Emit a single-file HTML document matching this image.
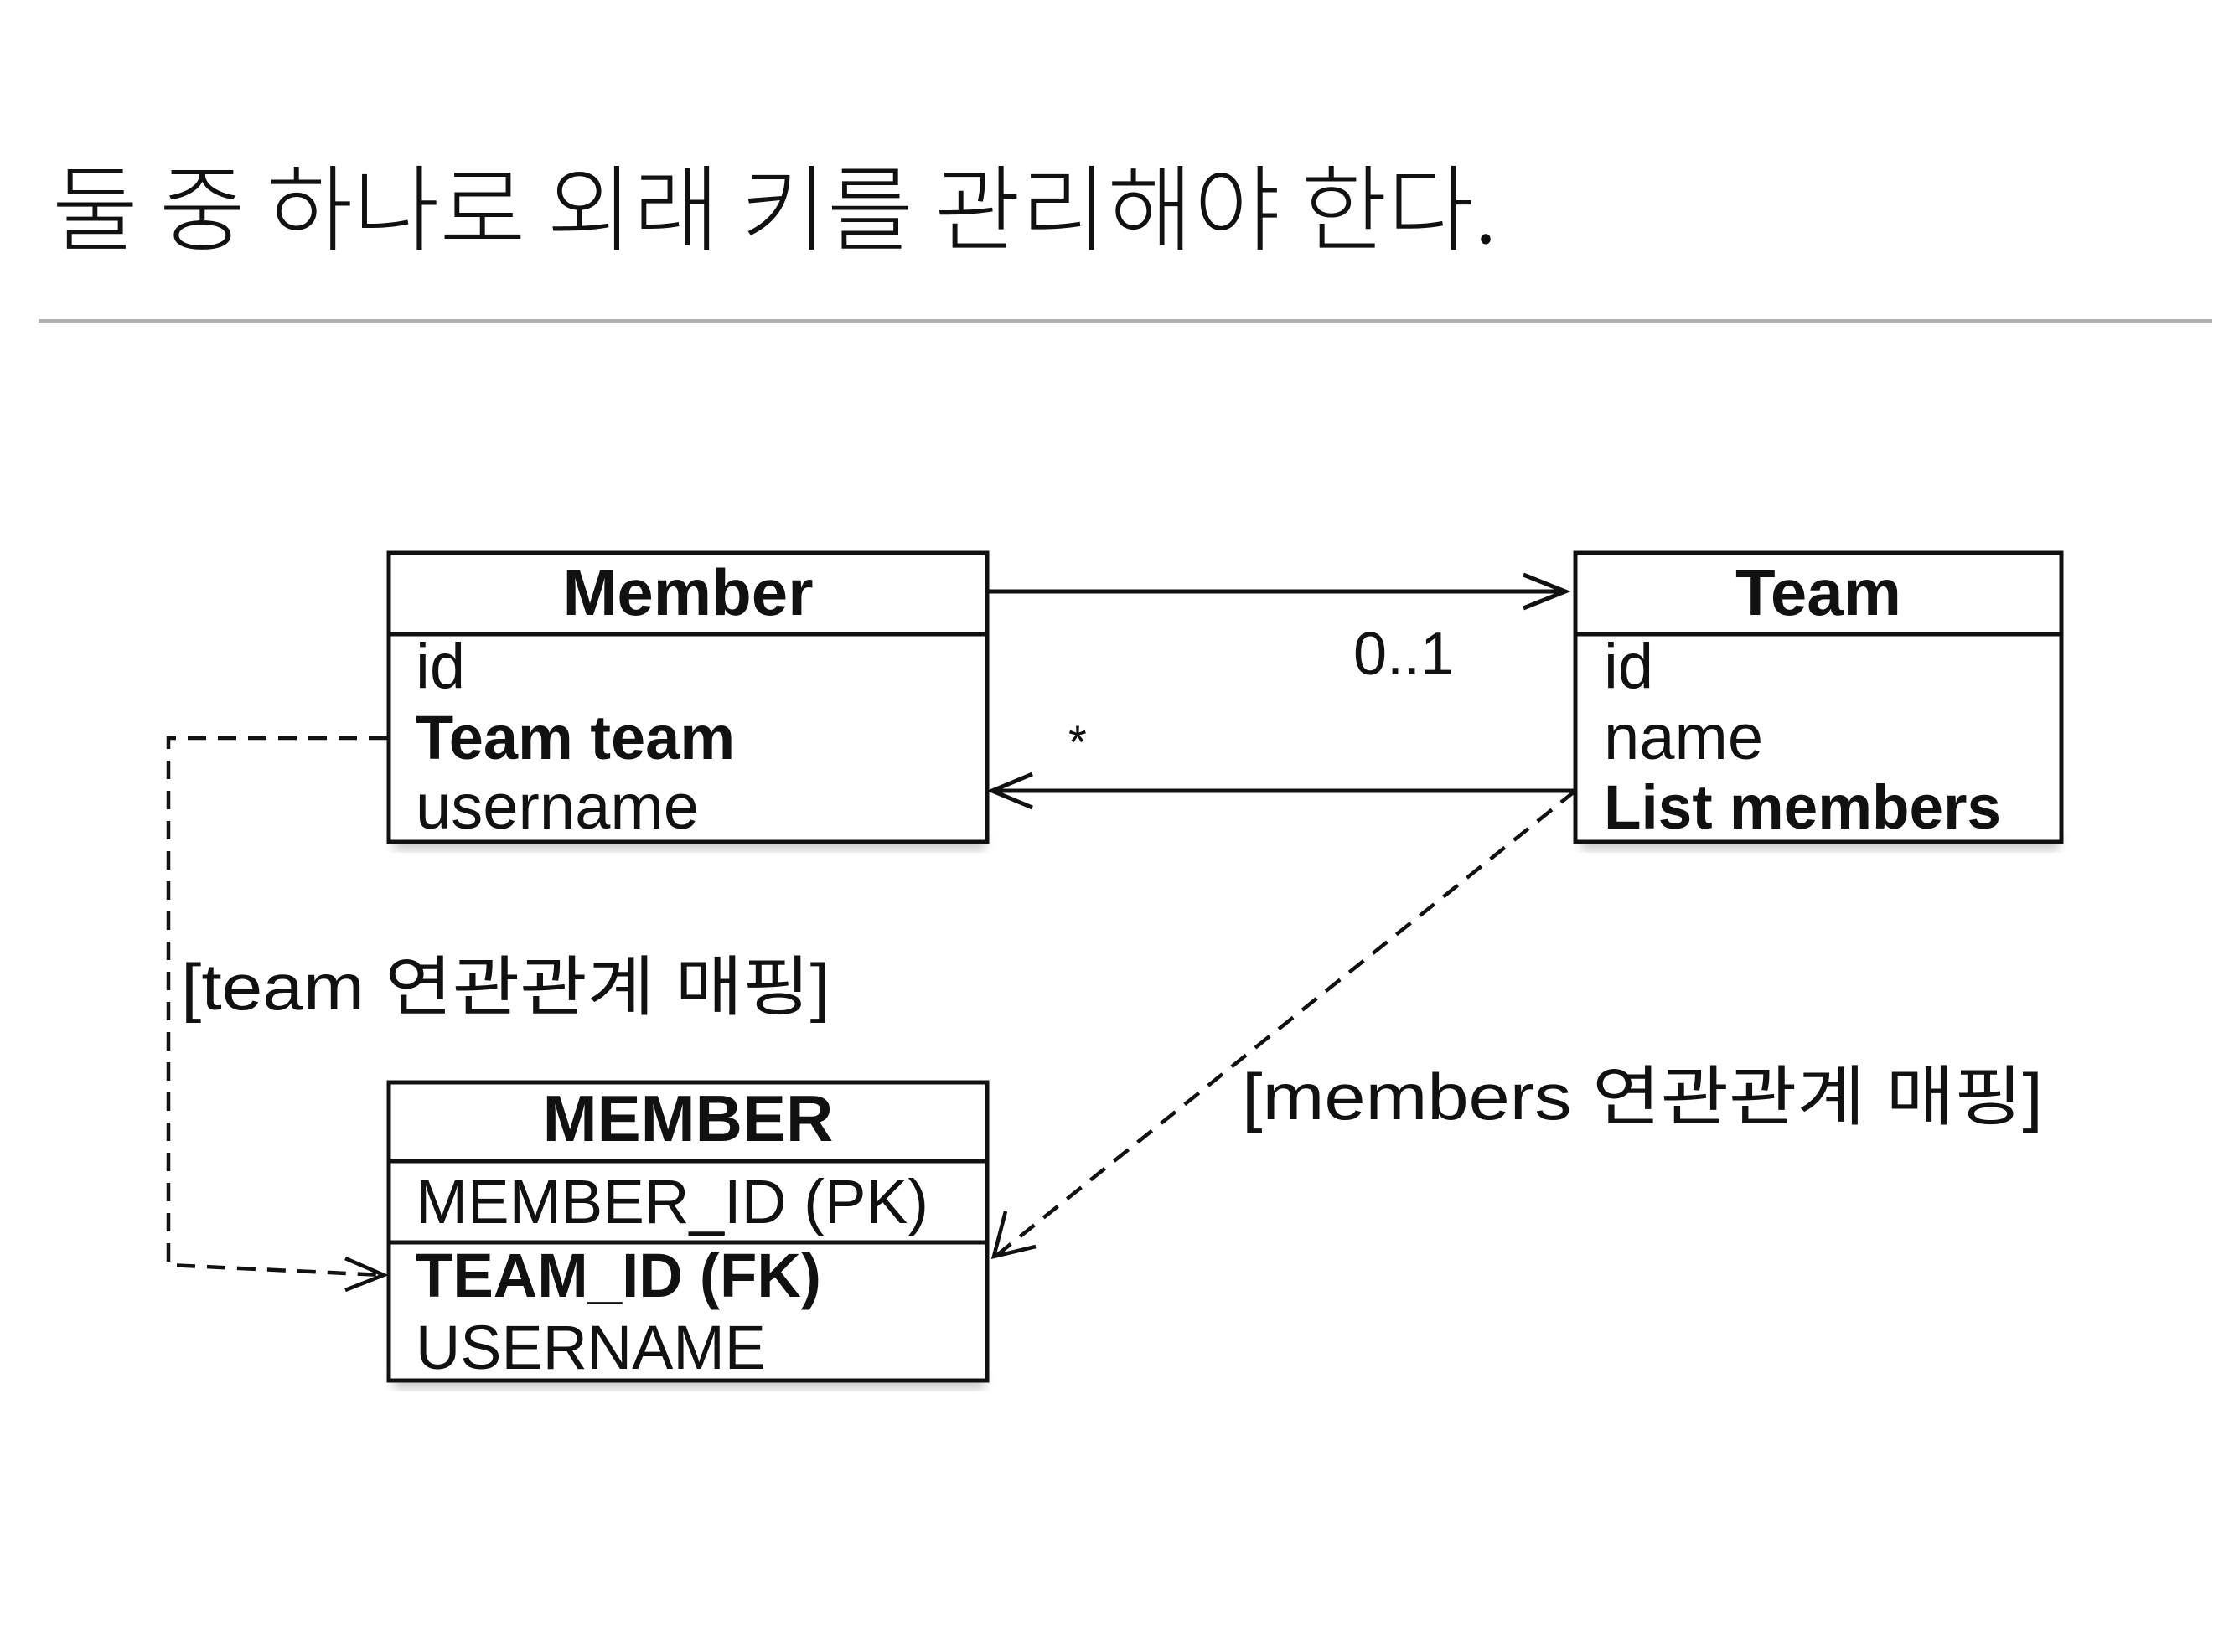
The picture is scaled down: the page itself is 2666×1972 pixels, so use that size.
<!DOCTYPE html>
<html><head><meta charset="utf-8"><style>
html,body{margin:0;padding:0;background:#fff;}
svg{display:block;}
text{font-family:"Liberation Sans","Noto Sans CJK KR",sans-serif;fill:#111;}
</style></head><body>
<svg width="2666" height="1972" viewBox="0 0 2666 1972" xmlns="http://www.w3.org/2000/svg">
<defs>
<filter id="sh" x="-5%" y="-5%" width="110%" height="120%"><feGaussianBlur stdDeviation="6"/></filter>
</defs>
<rect width="2666" height="1972" fill="#fff"/>
<text x="62" y="290" font-size="112" textLength="1725" lengthAdjust="spacingAndGlyphs" style="font-family:'Noto Sans CJK KR',sans-serif;font-weight:300">둘 중 하나로 외래 키를 관리해야 한다.</text>
<rect x="46" y="381" width="2594" height="4" fill="#b0b0b0"/>

<rect x="470" y="995" width="705" height="20" fill="#999" opacity="0.5" filter="url(#sh)"/>
<rect x="1887" y="995" width="570" height="20" fill="#999" opacity="0.5" filter="url(#sh)"/>
<rect x="470" y="1638" width="705" height="20" fill="#999" opacity="0.5" filter="url(#sh)"/>

<g fill="#fff" stroke="#111" stroke-width="5">
<rect x="464" y="660" width="714" height="345"/>
<line x1="464" y1="757" x2="1178" y2="757"/>
<rect x="1880" y="660" width="580" height="345"/>
<line x1="1880" y1="757" x2="2460" y2="757"/>
<rect x="464" y="1292" width="714" height="356"/>
<line x1="464" y1="1386" x2="1178" y2="1386"/>
<line x1="464" y1="1483" x2="1178" y2="1483"/>
</g>

<text x="821" y="734" font-size="78" font-weight="bold" text-anchor="middle">Member</text>
<text x="496" y="821" font-size="76" fill="#222">id</text>
<text x="496" y="906" font-size="74" font-weight="bold">Team team</text>
<text x="496" y="989" font-size="76" fill="#222">username</text>
<text x="2170" y="734" font-size="78" font-weight="bold" text-anchor="middle">Team</text>
<text x="1914" y="821" font-size="76" fill="#222">id</text>
<text x="1914" y="906" font-size="76" fill="#222">name</text>
<text x="1914" y="989" font-size="74" font-weight="bold" textLength="474" lengthAdjust="spacingAndGlyphs">List members</text>
<text x="821" y="1362" font-size="78" font-weight="bold" text-anchor="middle">MEMBER</text>
<text x="496" y="1460" font-size="74" fill="#222" textLength="612" lengthAdjust="spacingAndGlyphs">MEMBER_ID (PK)</text>
<text x="496" y="1548" font-size="74" font-weight="bold" textLength="484" lengthAdjust="spacingAndGlyphs">TEAM_ID (FK)</text>
<text x="496" y="1634" font-size="74" fill="#222" textLength="418" lengthAdjust="spacingAndGlyphs">USERNAME</text>

<g stroke="#111" stroke-width="5" fill="none">
<line x1="1180" y1="706" x2="1868" y2="706"/>
<polyline points="1818,686 1868,706 1818,726"/>
<line x1="1880" y1="944" x2="1184" y2="944"/>
<polyline points="1232,924 1184,944 1232,964"/>
</g>
<text x="1615" y="805" font-size="72" fill="#222">0..1</text>
<text x="1275" y="905" font-size="56" fill="#222">*</text>

<g stroke="#111" stroke-width="4.5" fill="none">
<polyline points="462,881 201,881 201,1510 456,1522" stroke-dasharray="22,14"/>
<polyline points="412,1502 458,1522 412,1540"/>
<line x1="1880" y1="944" x2="1190" y2="1498" stroke-dasharray="22,14"/>
<polyline points="1200,1446 1186,1500 1236,1488"/>
</g>
<text x="216" y="1205" font-size="78" fill="#222" textLength="775" lengthAdjust="spacingAndGlyphs">[team 연관관계 매핑]</text>
<text x="1482" y="1336" font-size="78" fill="#222" textLength="956" lengthAdjust="spacingAndGlyphs">[members 연관관계 매핑]</text>
</svg>
</body></html>
